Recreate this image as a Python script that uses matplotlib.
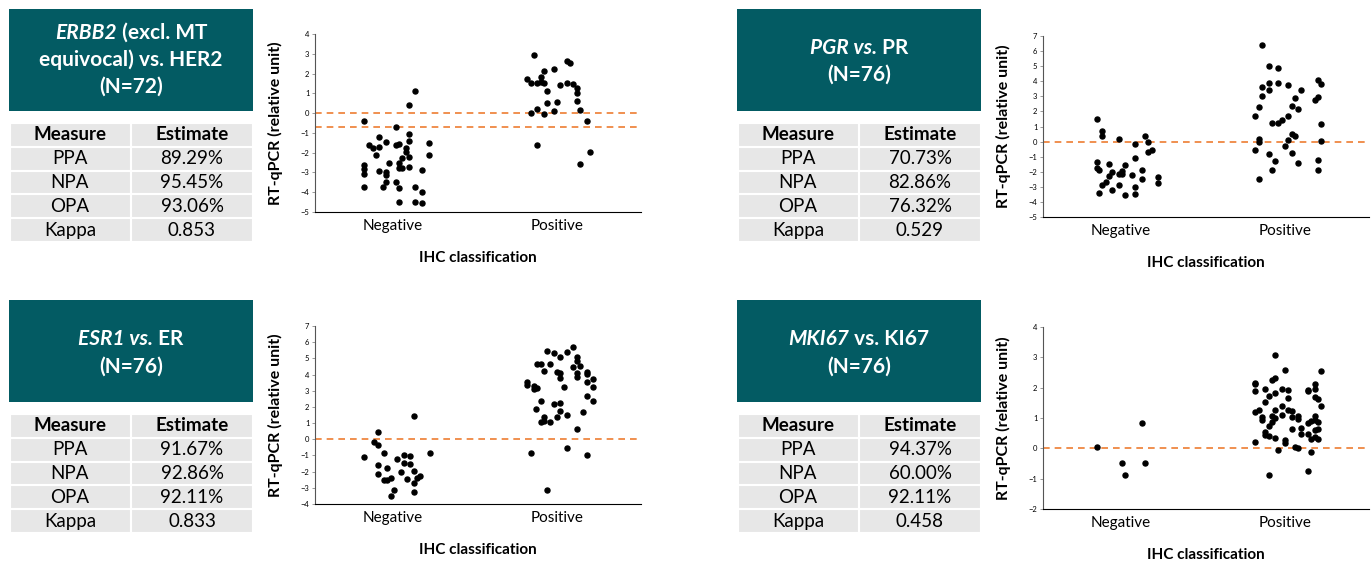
import matplotlib
matplotlib.use('Agg')
import matplotlib.pyplot as plt
from matplotlib.patches import Rectangle

plt.rcParams['font.family'] = ['Lato', 'DejaVu Sans']

# agreement tables
measures = ['PPA', 'NPA', 'OPA', 'Kappa']
erbb2_est = ['89.29%', '95.45%', '93.06%', '0.853']
pgr_est = ['70.73%', '82.86%', '76.32%', '0.529']
esr1_est = ['91.67%', '92.86%', '92.11%', '0.833']
mki67_est = ['94.37%', '60.00%', '92.11%', '0.458']

categories = ['Negative', 'Positive']

# ERBB2 vs HER2 : jitter offset / RT-qPCR value
erbb2_neg_dx = [-0.17, -0.17, -0.17, -0.17, -0.17, -0.14, -0.12, -0.10, -0.08, -0.08, -0.08, -0.06, -0.04, -0.04,
                -0.04, -0.04, -0.02, 0.02, 0.02, 0.02, 0.04, 0.04, 0.04, 0.04, 0.04, 0.06, 0.06, 0.08, 0.08,
                0.10, 0.10, 0.10, 0.10, 0.10, 0.14, 0.14, 0.14, 0.18, 0.18, 0.18, 0.22, 0.22]
erbb2_neg_y = [-0.38, -2.62, -2.82, -3.07, -3.76, -1.59, -1.76, -2.11, -1.22, -1.72, -2.92, -3.74, -1.47, -3.00,
               -3.12, -3.47, -2.53, -0.68, -1.59, -3.47, -1.55, -2.53, -2.78, -3.79, -4.47, -2.28, -2.78, -1.76, -1.99,
               0.40, -1.08, -1.39, -2.23, -2.73, 1.10, -3.76, -4.49, -2.87, -4.00, -4.55, -1.49, -2.14]
erbb2_pos_dx = [-0.18, -0.16, -0.16, -0.14, -0.12, -0.12, -0.12, -0.10, -0.10, -0.08, -0.08, -0.08, -0.06, -0.06,
                -0.02, -0.02, 0.00, 0.02, 0.06, 0.06, 0.08, 0.10, 0.12, 0.12, 0.12, 0.14, 0.14, 0.18, 0.20]
erbb2_pos_y = [1.71, 1.51, 0.03, 2.92, 1.51, 0.20, -1.59, 1.85, 1.59, 2.13, 1.51, -0.07, 1.10, 0.50,
               2.23, 0.13, 0.56, 1.41, 2.65, 1.51, 2.55, 1.48, 1.29, 1.00, 0.60, 0.16, -2.57, -0.41, -1.99]
erbb2_cutoffs = [0.0, -0.71]

# PGR vs PR
pgr_neg_dx = [-0.14, -0.14, -0.14, -0.13, -0.13, -0.11, -0.11, -0.11, -0.09, -0.07, -0.07, -0.05, -0.05, -0.01,
              -0.01, -0.01, 0.01, 0.01, 0.03, 0.03, 0.07, 0.09, 0.09, 0.09, 0.09, 0.13, 0.13, 0.15, 0.17,
              0.17, 0.19, 0.23, 0.23]
pgr_neg_y = [1.47, -1.35, -1.74, -1.90, -3.41, 0.71, 0.38, -2.85, -2.70, -1.50, -2.28, -2.03, -3.18, 0.20,
             -2.17, -2.87, -2.17, -1.97, -1.55, -3.52, -2.21, -0.17, -1.08, -3.01, -3.45, -1.86, -2.48, 0.36, -0.02,
             -0.66, -0.57, -2.36, -2.74]
pgr_pos_dx = [-0.18, -0.18, -0.16, -0.16, -0.16, -0.16, -0.14, -0.14, -0.14, -0.10, -0.10, -0.10, -0.10, -0.08,
              -0.08, -0.06, -0.04, -0.04, -0.04, -0.02, 0.00, 0.02, 0.02, 0.02, 0.04, 0.04, 0.04, 0.06, 0.06,
              0.08, 0.08, 0.10, 0.18, 0.20, 0.20, 0.20, 0.20, 0.22, 0.22, 0.22]
pgr_pos_y = [1.71, -0.57, 2.31, 0.16, -0.04, -2.48, 6.40, 3.59, 3.00, 5.01, 3.86, 3.41, -0.84, 1.22,
             -1.86, -1.28, 4.90, 3.88, 1.24, 1.40, -0.26, 3.75, 1.69, 0.09, 2.35, 0.47, -0.75, 2.86, 0.34,
             2.15, -1.41, 3.39, 2.73, 4.06, 2.97, -1.24, -1.90, 3.79, 1.18, 0.05]
pgr_cutoffs = [0.0]

# ESR1 vs ER
esr1_neg_dx = [-0.17, -0.11, -0.09, -0.09, -0.09, -0.09, -0.05, -0.05, -0.03, -0.03, -0.01, -0.01, 0.01, 0.03,
               0.05, 0.07, 0.07, 0.09, 0.11, 0.11, 0.13, 0.13, 0.13, 0.13, 0.15, 0.17, 0.23]
esr1_neg_y = [-1.07, -0.18, 0.43, -0.35, -1.58, -2.13, -0.82, -2.50, -1.76, -2.50, -2.42, -3.49, -3.12, -1.19,
              -2.05, -1.00, -1.45, -2.46, -1.02, -1.50, 1.44, -1.93, -2.71, -3.24, -2.38, -2.30, -0.86]
esr1_pos_dx = [-0.18, -0.18, -0.16, -0.14, -0.14, -0.13, -0.12, -0.12, -0.10, -0.10, -0.10, -0.08, -0.08, -0.08,
               -0.06, -0.06, -0.04, -0.04, -0.02, -0.02, 0.00, 0.00, 0.02, 0.02, 0.02, 0.02, 0.02, 0.04,
               0.06, 0.06, 0.06, 0.10, 0.10, 0.12, 0.12, 0.12, 0.12, 0.12, 0.14, 0.16, 0.18, 0.18, 0.18,
               0.18, 0.18, 0.22, 0.22, 0.22]
esr1_pos_y = [3.53, 3.35, -0.86, 3.29, 3.12, 1.85, 3.18, 4.68, 4.68, 2.36, 1.05, 1.38, 1.15, 4.23,
              5.44, -3.16, 4.64, 1.07, 5.34, 2.16, 4.15, 1.36, 5.07, 4.11, 3.78, 2.26, 1.75, 3.20,
              5.42, 1.48, -0.53, 5.71, 4.48, 5.09, 4.85, 4.11, 3.86, 0.62, 4.52, 1.69, 4.15, 4.02, 3.51,
              2.69, -1.00, 3.70, 3.20, 2.36]
esr1_cutoffs = [0.0]

# MKI67 vs KI67
mki67_neg_dx = [-0.14, 0.01, 0.03, 0.13, 0.15]
mki67_neg_y = [0.06, -0.47, -0.88, 0.85, -0.47]
mki67_pos_dx = [-0.18, -0.18, -0.18, -0.18, -0.18, -0.16, -0.14, -0.14, -0.12, -0.12, -0.12, -0.12, -0.10, -0.10,
                -0.10, -0.10, -0.08, -0.08, -0.08, -0.06, -0.06, -0.06, -0.06, -0.06, -0.06, -0.04, -0.02, -0.02,
                -0.02, 0.00, 0.00, 0.00, 0.02, 0.02, 0.02, 0.04, 0.04, 0.04, 0.06, 0.08, 0.08, 0.08, 0.10,
                0.10, 0.14, 0.14, 0.14, 0.14, 0.14, 0.16, 0.16, 0.16, 0.18, 0.18, 0.18, 0.18, 0.18, 0.18,
                0.18, 0.20, 0.20, 0.20, 0.20, 0.22, 0.22]
mki67_pos_y = [0.21, 1.19, 1.89, 2.13, 2.17, 1.27, 0.92, 1.03, 1.97, 1.53, 0.54, 0.45, 1.73, 0.74,
               0.41, -0.88, 2.26, 1.07, 0.86, 3.08, 2.33, 1.84, 1.27, 0.99, 0.33, -0.07, 1.95, 1.40,
               1.09, 2.59, 0.26, 0.19, 1.93, 1.67, 1.25, 1.23, 1.03, 0.63, 0.04, 1.07, 0.96, 0.01, 0.68,
               0.48, 1.93, 1.89, 0.83, 0.48, -0.76, 0.90, 0.32, -0.12, 2.13, 1.97, 1.69, 1.07, 0.94, 0.59,
               0.39, 1.62, 0.87, 0.63, 0.32, 2.55, 1.40]
mki67_cutoffs = [0.0]

# header titles: list of lines, each line = (text, italic) pieces
erbb2_title = [[('ERBB2', True), (' (excl. MT', False)], [('equivocal) vs. HER2', False)], [('(N=72)', False)]]
pgr_title = [[('PGR vs.', True), (' PR', False)], [('(N=76)', False)]]
esr1_title = [[('ESR1 vs.', True), (' ER', False)], [('(N=76)', False)]]
mki67_title = [[('MKI67', True), (' vs. KI67', False)], [('(N=76)', False)]]

W, H = 1372, 564
TEAL = '#035b63'
CELL = '#e7e7e7'
ORANGE = '#ed7d31'

fig = plt.figure(figsize=(W / 100, H / 100), dpi=100)
bg = fig.add_axes([0, 0, 1, 1])
bg.set_xlim(0, W)
bg.set_ylim(H, 0)
bg.axis('off')
renderer = fig.canvas.get_renderer()


def title_line(xc, y, pieces):
    # place bold pieces side by side, some italic, centred on xc
    texts = [bg.text(0, y, s, color='white', fontsize=15, fontweight='bold',
                     style='italic' if it else 'normal', ha='left', va='center') for s, it in pieces]
    widths = [t.get_window_extent(renderer).width for t in texts]
    x = xc - sum(widths) / 2
    for t, w in zip(texts, widths):
        t.set_x(x)
        x += w


def draw_card(x0, y0, lines, line_ys, estimates):
    w = 244
    bg.add_patch(Rectangle((x0, y0), w, 102, color=TEAL, lw=0))
    for pieces, ly in zip(lines, line_ys):
        title_line(x0 + w / 2, ly, pieces)
    # table under the header
    t0 = y0 + 114
    rh = 23.8
    split = x0 + 122
    rows = [('Measure', 'Estimate')] + list(zip(measures, estimates))
    for i, (m, e) in enumerate(rows):
        yy = t0 + i * rh
        bg.add_patch(Rectangle((x0 + 1, yy), split - x0 - 1, rh, facecolor=CELL, edgecolor='white', lw=1.5))
        bg.add_patch(Rectangle((split, yy), x0 + w - split, rh, facecolor=CELL, edgecolor='white', lw=1.5))
        wt = 'bold' if i == 0 else 'normal'
        bg.text((x0 + split) / 2, yy + rh / 2, m, fontsize=13.5, fontweight=wt, ha='center', va='center')
        bg.text((split + x0 + w) / 2, yy + rh / 2, e, fontsize=13.5, fontweight=wt, ha='center', va='center')


def draw_scatter(px, neg_dx, neg_y, pos_dx, pos_y, cutoffs, ylim):
    left, right, top, bottom = px
    ax = fig.add_axes([left / W, 1 - bottom / H, (right - left) / W, (bottom - top) / H])
    ax.scatter([1 + d for d in neg_dx], neg_y, s=13, color='black', zorder=3)
    ax.scatter([2 + d for d in pos_dx], pos_y, s=13, color='black', zorder=3)
    for c in cutoffs:
        ax.axhline(c, color=ORANGE, lw=1.2, ls=(0, (4, 3)), zorder=2)
    ax.set_xlim(0.53, 2.51)
    ax.set_ylim(*ylim)
    ax.set_yticks(range(ylim[0], ylim[1] + 1))
    ax.set_xticks([1, 2])
    ax.set_xticklabels(categories, fontsize=11)
    ax.tick_params(axis='x', length=0, pad=5)
    ax.tick_params(axis='y', length=2, width=0.6, labelsize=5.5, pad=2, color='#888888')
    for s in ['top', 'right']:
        ax.spines[s].set_visible(False)
    ax.spines['left'].set_color('#555555')
    ax.spines['bottom'].set_color('black')
    ax.set_ylabel('RT-qPCR (relative unit)', fontsize=11.5, fontweight='bold')
    ax.yaxis.set_label_coords(-0.097, 0.5)
    ax.set_xlabel('IHC classification', fontsize=11, fontweight='bold')
    ax.xaxis.set_label_coords(0.5, -39 / (bottom - top))
    return ax


draw_card(9, 9, erbb2_title, [33, 60, 87], erbb2_est)
draw_card(737, 9, pgr_title, [48, 75], pgr_est)
draw_card(9, 300, esr1_title, [339, 367], esr1_est)
draw_card(737, 300, mki67_title, [339, 367], mki67_est)

draw_scatter((315, 641, 34, 212), erbb2_neg_dx, erbb2_neg_y, erbb2_pos_dx, erbb2_pos_y, erbb2_cutoffs, (-5, 4))
draw_scatter((1043, 1369, 36, 217), pgr_neg_dx, pgr_neg_y, pgr_pos_dx, pgr_pos_y, pgr_cutoffs, (-5, 7))
draw_scatter((315, 641, 326, 504), esr1_neg_dx, esr1_neg_y, esr1_pos_dx, esr1_pos_y, esr1_cutoffs, (-4, 7))
draw_scatter((1043, 1369, 327, 509), mki67_neg_dx, mki67_neg_y, mki67_pos_dx, mki67_pos_y, mki67_cutoffs, (-2, 4))

fig.savefig('out.png', dpi=100)
